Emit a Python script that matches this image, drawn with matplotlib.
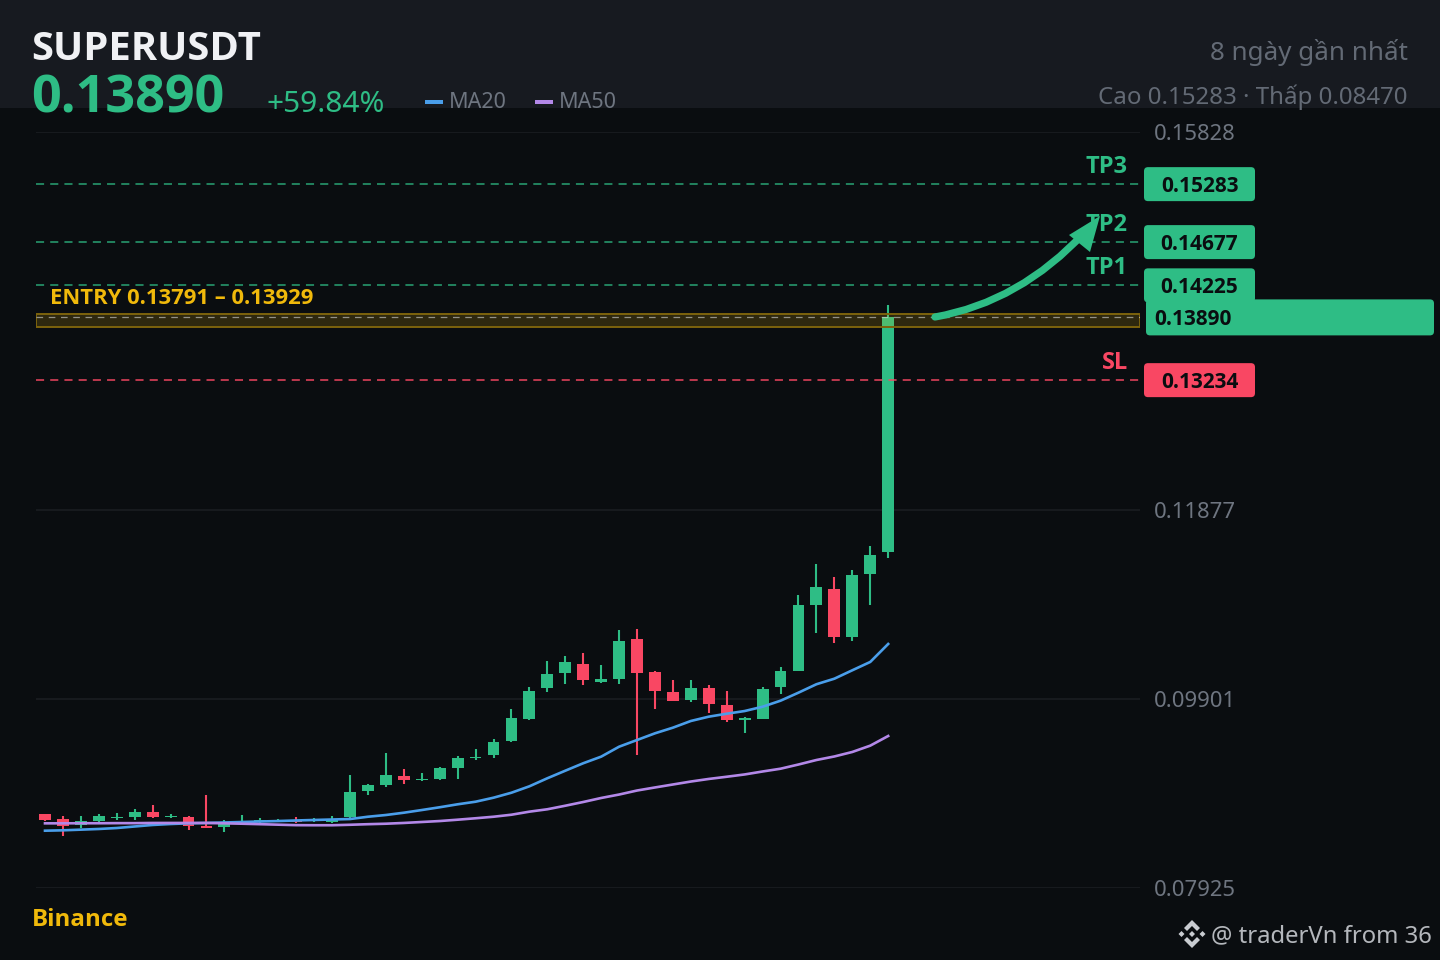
import matplotlib
matplotlib.use("Agg")
import matplotlib.pyplot as plt
from matplotlib.patches import FancyBboxPatch, PathPatch, Polygon, Rectangle
from matplotlib.path import Path

plt.rcParams["font.family"] = ["Noto Sans", "DejaVu Sans"]

opens = [0.08696, 0.08643, 0.08584, 0.08622, 0.08654, 0.08667, 0.08720, 0.08664, 0.08667, 0.08570,
         0.08560, 0.08608, 0.08615, 0.08615, 0.08636, 0.08622, 0.08620, 0.08664, 0.08942, 0.09002,
         0.09099, 0.09054, 0.09061, 0.09183, 0.09284, 0.09312, 0.09462, 0.09692, 0.10013, 0.10173,
         0.10267, 0.10082, 0.10113, 0.10528, 0.10180, 0.09977, 0.09893, 0.10019, 0.09838, 0.09681,
         0.09692, 0.10023, 0.10194, 0.10884, 0.11048, 0.10546, 0.11204, 0.11437]
closes = [0.08639, 0.08573, 0.08625, 0.08681, 0.08667, 0.08720, 0.08670, 0.08678, 0.08576, 0.08552,
          0.08615, 0.08625, 0.08636, 0.08636, 0.08620, 0.08646, 0.08636, 0.08932, 0.08999, 0.09106,
          0.09051, 0.09068, 0.09180, 0.09287, 0.09298, 0.09451, 0.09699, 0.09988, 0.10159, 0.10288,
          0.10103, 0.10107, 0.10507, 0.10173, 0.09981, 0.09883, 0.10019, 0.09845, 0.09684, 0.09699,
          0.10008, 0.10190, 0.10880, 0.11069, 0.10546, 0.11197, 0.11406, 0.13890]
highs = [0.08699, 0.08681, 0.08681, 0.08702, 0.08709, 0.08751, 0.08793, 0.08702, 0.08675, 0.08900,
         0.08636, 0.08691, 0.08654, 0.08646, 0.08670, 0.08657, 0.08675, 0.09103, 0.09012, 0.09336,
         0.09169, 0.09127, 0.09190, 0.09302, 0.09378, 0.09479, 0.09800, 0.10029, 0.10301, 0.10351,
         0.10382, 0.10253, 0.10622, 0.10633, 0.10190, 0.10099, 0.10099, 0.10050, 0.09981, 0.09709,
         0.10029, 0.10232, 0.10988, 0.11312, 0.11179, 0.11249, 0.11500, 0.14020]
lows = [0.08629, 0.08470, 0.08549, 0.08615, 0.08639, 0.08639, 0.08660, 0.08657, 0.08535, 0.08549,
        0.08510, 0.08601, 0.08601, 0.08610, 0.08601, 0.08615, 0.08601, 0.08657, 0.08900, 0.08984,
        0.09012, 0.09040, 0.09058, 0.09061, 0.09263, 0.09281, 0.09454, 0.09684, 0.09971, 0.10061,
        0.10050, 0.10071, 0.10061, 0.09312, 0.09793, 0.09880, 0.09869, 0.09751, 0.09663, 0.09542,
        0.09688, 0.09950, 0.10190, 0.10594, 0.10483, 0.10511, 0.10884, 0.11375]
ma20 = [0.08524, 0.08528, 0.08535, 0.08542, 0.08552, 0.08568, 0.08584, 0.08594, 0.08601, 0.08605,
        0.08610, 0.08615, 0.08620, 0.08625, 0.08631, 0.08636, 0.08641, 0.08646, 0.08670, 0.08688,
        0.08712, 0.08740, 0.08769, 0.08800, 0.08827, 0.08869, 0.08921, 0.08988, 0.09072, 0.09151,
        0.09229, 0.09298, 0.09402, 0.09472, 0.09542, 0.09601, 0.09671, 0.09716, 0.09747, 0.09775,
        0.09820, 0.09883, 0.09967, 0.10055, 0.10113, 0.10201, 0.10288, 0.10476]
ma50 = [0.08601, 0.08601, 0.08602, 0.08602, 0.08603, 0.08603, 0.08605, 0.08605, 0.08605, 0.08605,
        0.08601, 0.08597, 0.08592, 0.08587, 0.08582, 0.08581, 0.08581, 0.08586, 0.08592, 0.08597,
        0.08605, 0.08615, 0.08625, 0.08639, 0.08654, 0.08670, 0.08691, 0.08723, 0.08748, 0.08785,
        0.08824, 0.08866, 0.08902, 0.08944, 0.08976, 0.09007, 0.09038, 0.09065, 0.09088, 0.09112,
        0.09143, 0.09172, 0.09216, 0.09263, 0.09300, 0.09347, 0.09413, 0.09514]

axis_ticks = [0.07925, 0.09901, 0.11877, 0.15828]
tp_names = ["TP3", "TP2", "TP1"]
tp_levels = [0.15283, 0.14677, 0.14225]
sl_level = 0.13234
entry_low = 0.13791
entry_high = 0.13929
last_price = 0.13890

BG = "#0a0d10"
HEADER = "#171a20"
GREEN = "#2ebd85"
RED = "#f94763"
YELLOW = "#f0b90b"
GREY = "#6e7580"
FAINT = "#636a75"
DASH = (0, (5.3, 4))
BOLD = ["Open Sans", "Noto Sans", "DejaVu Sans"]


def price_y(p):
    return 132 + (axis_ticks[-1] - p) / (axis_ticks[-1] - axis_ticks[0]) * 756


fig = plt.figure(figsize=(14.4, 9.6), dpi=100, facecolor=BG)
fig.add_artist(Rectangle((0, 1 - 108 / 960), 1, 108 / 960, transform=fig.transFigure,
                         facecolor=HEADER, edgecolor="none", zorder=-1))

ax = fig.add_axes([36 / 1440, 1 - 888 / 960, 1104 / 1440, 756 / 960])
ax.patch.set_visible(False)
for s in ax.spines.values():
    s.set_visible(False)
ax.set_ylim(axis_ticks[0], axis_ticks[-1])
ax.set_xlim((36 - 45) / 17.94, (1140 - 45) / 17.94)
ax.set_xticks([])
ax.yaxis.tick_right()
ax.set_yticks(axis_ticks)
ax.set_yticklabels([f"{t:.5f}" for t in axis_ticks], fontsize=15.9, color=GREY)
ax.tick_params(axis="y", length=0, pad=10)
ax.grid(axis="y", color="#1a1d22", lw=1.2)
ax.set_axisbelow(True)

xs = list(range(len(opens)))
colors = [GREEN if c >= o else RED for o, c in zip(opens, closes)]
ax.vlines(xs, lows, highs, colors=colors, lw=1.5, zorder=2)
ax.bar(xs, [abs(c - o) for o, c in zip(opens, closes)], bottom=[min(o, c) for o, c in zip(opens, closes)],
       width=0.66, color=colors, edgecolor="none", zorder=3)
ax.plot(xs, ma20, color="#4a9eea", lw=1.9, zorder=4)
ax.plot(xs, ma50, color="#b388e8", lw=1.9, zorder=4)

for level in tp_levels:
    ax.axhline(level, color=GREEN, lw=1.1, ls=DASH, alpha=0.85, zorder=5)
ax.axhline(sl_level, color=RED, lw=1.1, ls=DASH, alpha=0.95, zorder=5)
ax.axhspan(entry_low, entry_high, facecolor=YELLOW, alpha=0.16, edgecolor="none", zorder=5)
ax.axhspan(entry_low, entry_high, facecolor="none", edgecolor="#7d630c", lw=1.4, zorder=5)
ax.axhline(last_price, color="#d8d8d8", lw=0.9, ls=(0, (5.3, 4.5)), alpha=0.6, zorder=5)

# overlay in pixel coordinates for the header, tags and arrow
ov = fig.add_axes([0, 0, 1, 1], zorder=10)
ov.set_xlim(0, 1440)
ov.set_ylim(960, 0)
ov.axis("off")

ov.text(31, 49, "SUPERUSDT", fontsize=28.8, family=BOLD, fontweight="bold", color="#f0f1f4", va="center")
ov.text(31, 99, f"{last_price:.5f}", fontsize=37.5, family=BOLD, fontweight="bold", color=GREEN, va="center")
ov.text(266, 104, "+59.84%", fontsize=21.5, color=GREEN, va="center")
ov.add_patch(Rectangle((425, 100), 18, 4, color="#4a9eea", lw=0))
ov.text(449, 103, "MA20", fontsize=15.5, color=GREY, va="center")
ov.add_patch(Rectangle((535, 100), 18, 4, color="#b388e8", lw=0))
ov.text(559, 103, "MA50", fontsize=15.5, color=GREY, va="center")
ov.text(1408, 53, "8 ngày gần nhất", fontsize=18.7, color=FAINT, ha="right", va="center")
ov.text(1408, 97, "Cao 0.15283 · Thấp 0.08470", fontsize=17.3, color=FAINT, ha="right", va="center")

for name, level in zip(tp_names, tp_levels):
    ov.text(1128, price_y(level) - 17, name, fontsize=17, family=BOLD, fontweight="bold", color=GREEN,
            ha="right", va="center")
ov.text(1128, price_y(sl_level) - 17, "SL", fontsize=17, family=BOLD, fontweight="bold", color=RED,
        ha="right", va="center")
ov.text(50, 298, f"ENTRY {entry_low:.5f} – {entry_high:.5f}", fontsize=15.8, family=BOLD, fontweight="bold",
        color=YELLOW, va="center")
ov.text(32, 920, "Binance", fontsize=17.4, family=BOLD, fontweight="bold", color=YELLOW, va="center")


def tag(x0, x1, yc, h, color, label, tx, ha):
    ov.add_patch(FancyBboxPatch((x0 + 4, yc - h / 2 + 4), x1 - x0 - 8, h - 8, boxstyle="round,pad=4,rounding_size=4",
                                facecolor=color, edgecolor="none"))
    ov.text(tx, yc + 2, label, fontsize=15, family=BOLD, fontweight="bold", color=BG, ha=ha, va="center")


for level in tp_levels:
    tag(1144, 1255, price_y(level), 34, GREEN, f"{level:.5f}", 1199.5, "center")
tag(1144, 1255, price_y(sl_level), 34, RED, f"{sl_level:.5f}", 1199.5, "center")
tag(1146, 1434, price_y(last_price), 36, GREEN, f"{last_price:.5f}", 1154, "left")

ov.add_patch(PathPatch(Path([(935, 317), (1020, 302), (1085, 232)], [Path.MOVETO, Path.CURVE3, Path.CURVE3]),
                       facecolor="none", edgecolor=GREEN, lw=5.2, capstyle="round"))
ov.add_patch(Polygon([(1100, 216), (1069, 235), (1090, 252)], closed=True, color=GREEN, lw=0))

# binance mark next to the watermark
cx, cy = 1192, 934
mark = "#c9ccd1"
ov.add_patch(Polygon([(cx, cy - 14), (cx + 8, cy - 6), (cx + 5, cy - 3), (cx, cy - 8), (cx - 5, cy - 3), (cx - 8, cy - 6)],
                     color=mark, lw=0))
ov.add_patch(Polygon([(cx, cy + 14), (cx + 8, cy + 6), (cx + 5, cy + 3), (cx, cy + 8), (cx - 5, cy + 3), (cx - 8, cy + 6)],
                     color=mark, lw=0))
for dx in (-10.5, 0, 10.5):
    ov.add_patch(Polygon([(cx + dx, cy - 3), (cx + dx + 3, cy), (cx + dx, cy + 3), (cx + dx - 3, cy)], color=mark, lw=0))
ov.text(1432, 936, "@ traderVn from 36", fontsize=17.2, color="#b4b7bc", ha="right", va="center")

fig.savefig("out.png", dpi=100, facecolor=BG)
